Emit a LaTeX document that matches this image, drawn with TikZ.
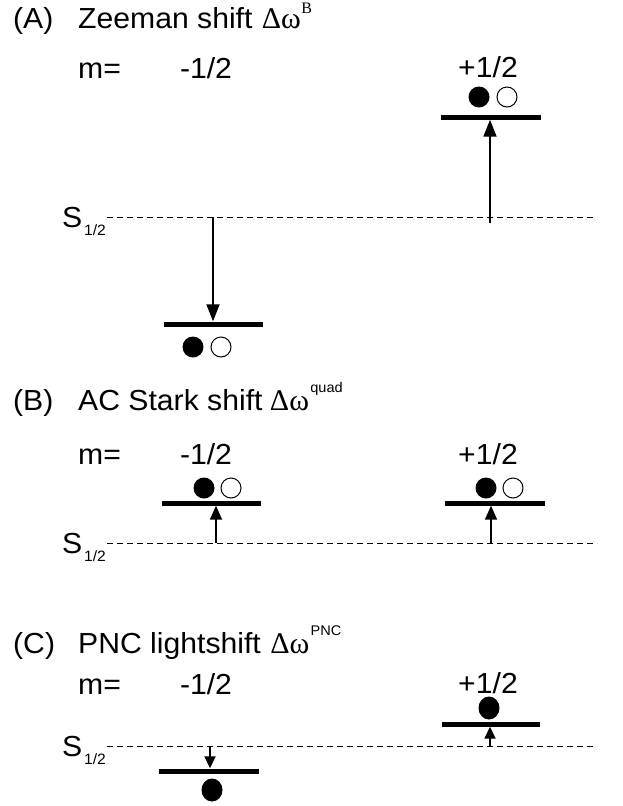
\documentclass[tikz,border=0pt]{standalone}
\usepackage{fontspec}
\setmainfont[FakeStretch=1.04]{Liberation Sans}
\newfontfamily\grk{Liberation Serif}
\usetikzlibrary{arrows.meta,shapes.geometric}
\tikzset{
  big/.style={font=\fontsize{29}{33}\selectfont, inner sep=0pt},
  greek/.style={font=\grk\fontsize{30}{33}\selectfont, inner sep=0pt, anchor=base west},
  supserif/.style={font=\grk\fontsize{16}{18}\selectfont, inner sep=0pt, anchor=base west},
  supsans/.style={font=\fontsize{14}{16}\selectfont, inner sep=0pt, anchor=base west},
  subsans/.style={font=\fontsize{15}{17}\selectfont, inner sep=0pt, anchor=base west},
  levelbar/.style={fill=black, inner sep=0pt, minimum height=5pt, draw=none, rectangle},
  fdot/.style={circle, fill=black, inner sep=0pt, minimum size=21pt, draw=none},
  odot/.style={circle, draw=black, line width=1pt, inner sep=0pt, minimum size=20pt},
  pdot/.style={ellipse, fill=black, inner sep=0pt, minimum width=21pt, minimum height=23pt, draw=none},
  dashline/.style={line width=1pt, dash pattern=on 6pt off 4pt},
  arrbig/.style={line width=1.8pt, -{Triangle[length=17pt,width=13pt]}},
  arrmid/.style={line width=1.8pt, -{Triangle[length=14pt,width=12pt]}},
  arrsmall/.style={line width=1.8pt, -{Triangle[length=12pt,width=11pt]}},
}
\begin{document}
\begin{tikzpicture}[x=1pt,y=-1pt]
\useasboundingbox (0,0) rectangle (622,806);

% ---------------- Panel A ----------------
\node[big, anchor=base west] (tA) at (13,28) {(A)};
\node[big, anchor=base west] (nA) at (78,28) {Zeeman shift};
\node[greek] (dA) at ([xshift=9pt]nA.base east) {Δω};
\node[supserif] (sA) at ([xshift=0pt,yshift=15pt]dA.base east) {B};

\node[big, anchor=base west] (mA) at (78,78) {m=};
\node[big, anchor=base] (lA) at (206,78) {-1/2};
\node[big, anchor=base] (rA) at (488,77) {+1/2};

\node[fdot] (cAr1) at (479,97) {};
\node[odot] (cAr2) at (507,97) {};
\node[levelbar, minimum width=100pt] (barAr) at (491,117) {};

\coordinate (dAl) at (107,217);
\coordinate (dAr) at (597,217);
\draw[dashline] (dAl) -- (dAr);
\node[big, anchor=base west] (SA) at (62,227) {S};
\node[subsans] (SAs) at (84,235) {1/2};

\coordinate (aAr) at (490,223);
\draw[arrbig] (aAr) -- (aAr |- barAr.south);

\node[levelbar, minimum width=99pt] (barAl) at (213.5,324) {};
\coordinate (aAl) at (213,217);
\draw[arrbig] (aAl) -- (aAl |- barAl.north);
\node[fdot] (cAl1) at (193,347) {};
\node[odot] (cAl2) at (221,347) {};

% ---------------- Panel B ----------------
\node[big, anchor=base west] (tB) at (13,410) {(B)};
\node[big, anchor=base west] (nB) at (78,410) {AC Stark shift};
\node[greek] (dB) at ([xshift=7pt]nB.base east) {Δω};
\node[supsans] (sB) at ([xshift=1pt,yshift=18pt]dB.base east) {quad};

\node[big, anchor=base west] (mB) at (78,464) {m=};
\node[big, anchor=base] (lB) at (206,464) {-1/2};
\node[big, anchor=base] (rB) at (488,464) {+1/2};

\node[fdot] (cBl1) at (204,488) {};
\node[odot] (cBl2) at (231,488) {};
\node[fdot] (cBr1) at (486,488) {};
\node[odot] (cBr2) at (513,488) {};
\node[levelbar, minimum width=99pt] (barBl) at (211.5,503) {};
\node[levelbar, minimum width=100pt] (barBr) at (495,503) {};

\coordinate (dBl) at (107,543);
\coordinate (dBr) at (597,543);
\draw[dashline] (dBl) -- (dBr);
\node[big, anchor=base west] (SB) at (62,553) {S};
\node[subsans] (SBs) at (84,561) {1/2};

\coordinate (aBl) at (216,543);
\coordinate (aBr) at (491,543);
\draw[arrmid] (aBl) -- (aBl |- barBl.south);
\draw[arrmid] (aBr) -- (aBr |- barBr.south);

% ---------------- Panel C ----------------
\node[big, anchor=base west] (tC) at (13,653) {(C)};
\node[big, anchor=base west] (nC) at (78,653) {PNC lightshift};
\node[greek] (dC) at ([xshift=9pt]nC.base east) {Δω};
\node[supsans] (sC) at ([xshift=1pt,yshift=18pt]dC.base east) {PNC};

\node[big, anchor=base west] (mC) at (78,694) {m=};
\node[big, anchor=base] (lC) at (206,694) {-1/2};
\node[big, anchor=base] (rC) at (488,693) {+1/2};

\node[pdot] (cCr) at (489,708) {};
\node[levelbar, minimum width=98pt] (barCr) at (491,724) {};

\coordinate (dCl) at (107,746);
\coordinate (dCr) at (597,746);
\draw[dashline] (dCl) -- (dCr);
\node[big, anchor=base west] (SC) at (62,756) {S};
\node[subsans] (SCs) at (84,764) {1/2};

\coordinate (aCr) at (490,746);
\draw[arrsmall] (aCr) -- (aCr |- barCr.south);

\node[levelbar, minimum width=100pt] (barCl) at (209,771) {};
\coordinate (aCl) at (210,746);
\draw[arrsmall] (aCl) -- (aCl |- barCl.north);
\node[pdot] (cCl) at (212,790) {};
\end{tikzpicture}
\end{document}
